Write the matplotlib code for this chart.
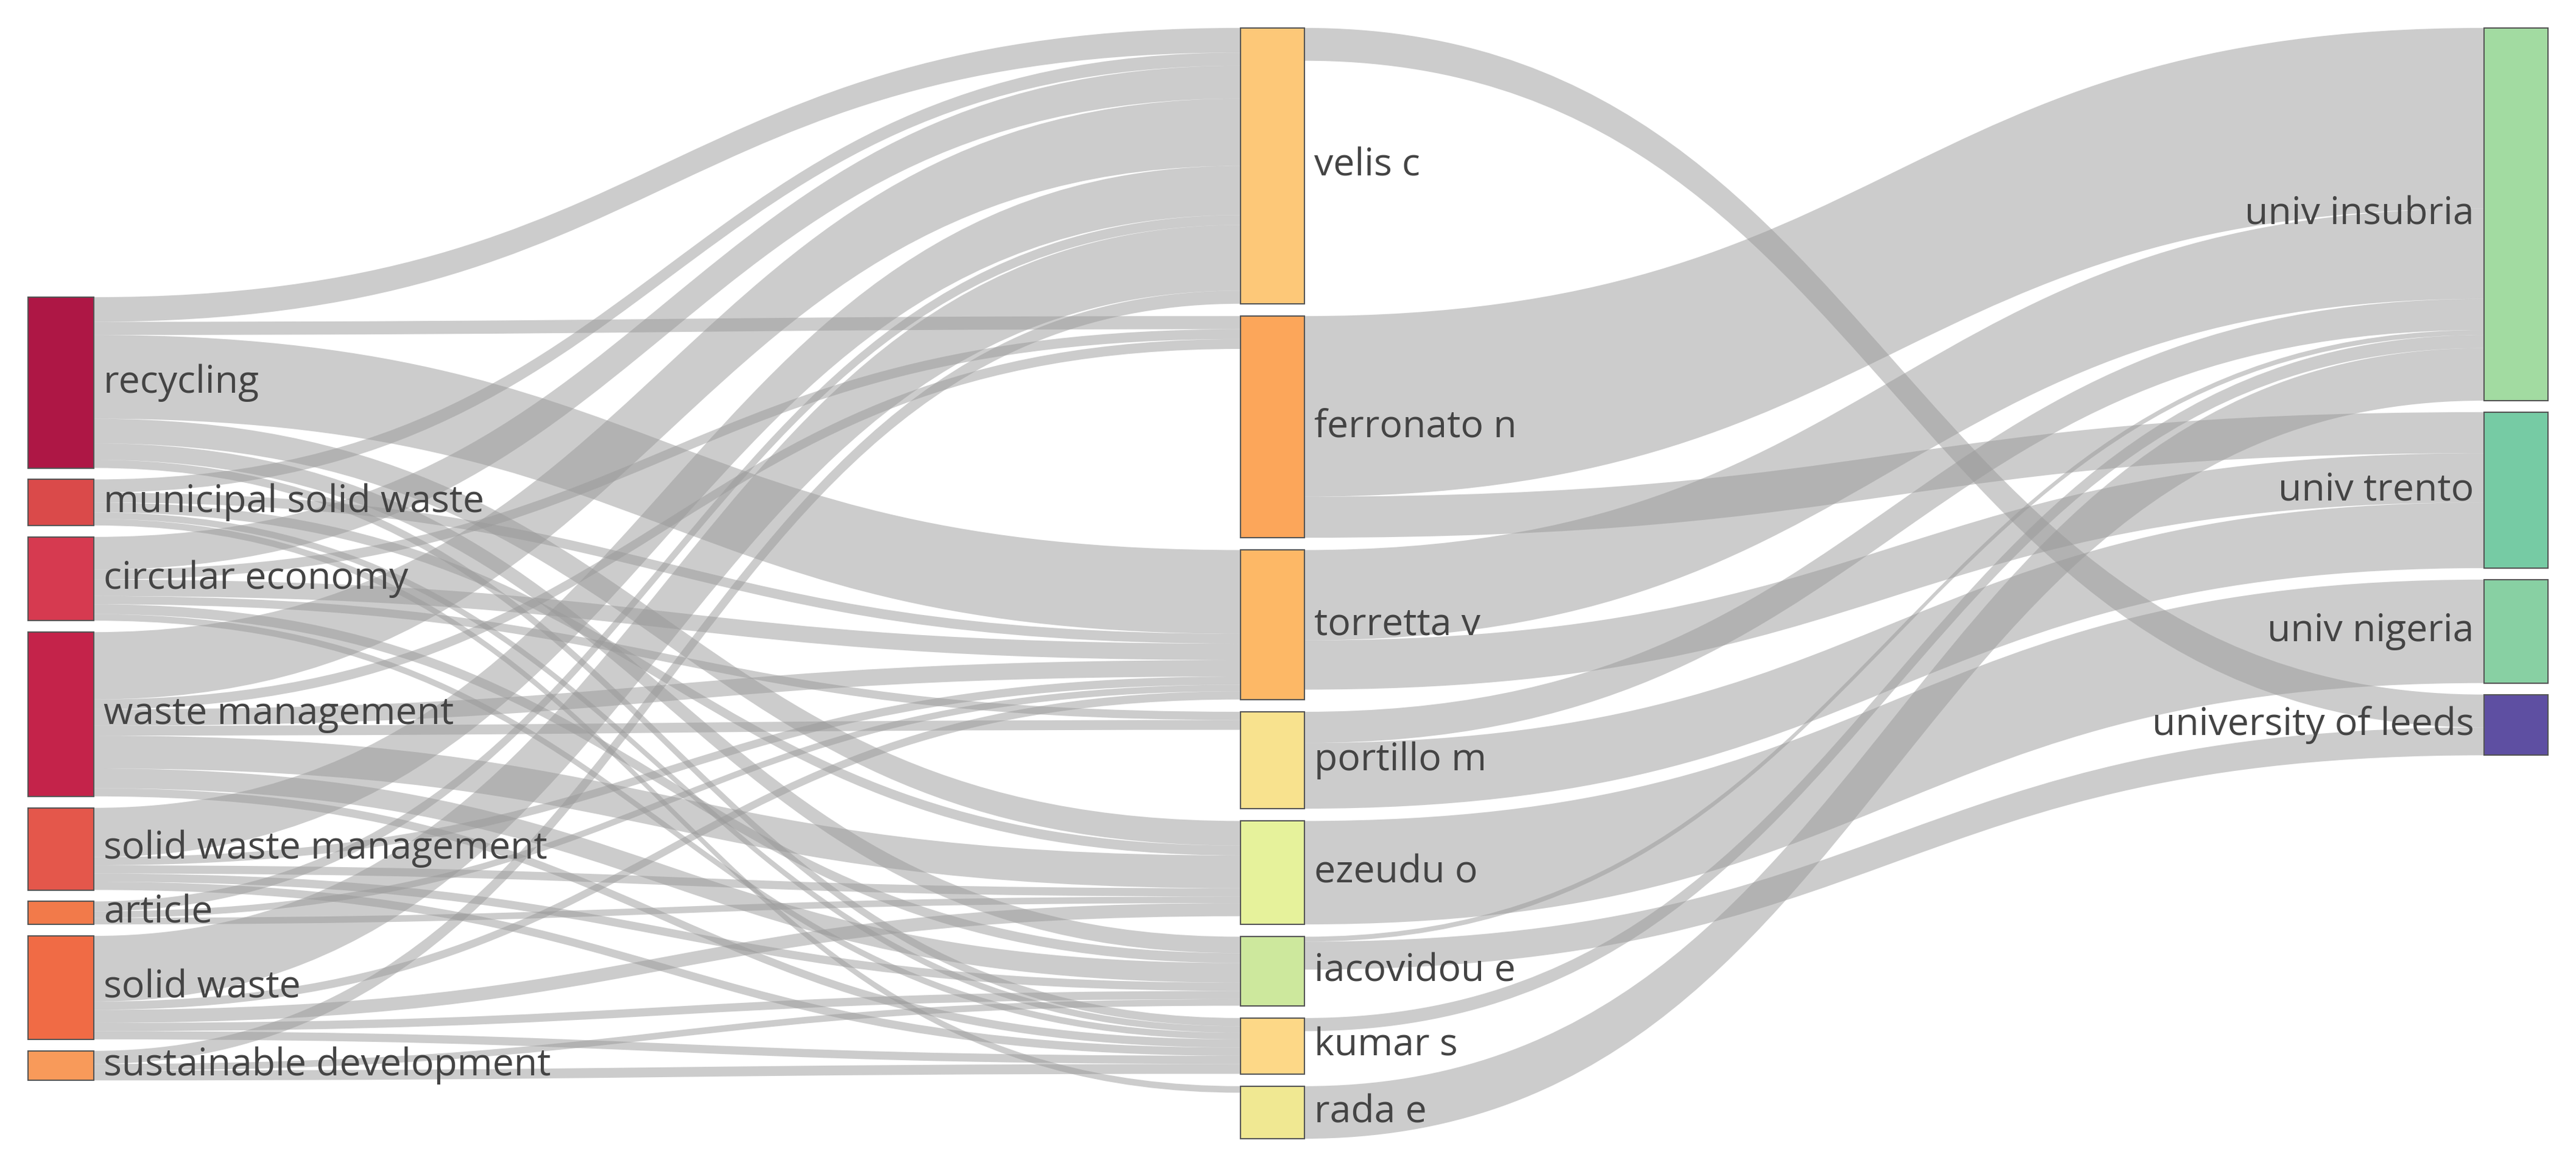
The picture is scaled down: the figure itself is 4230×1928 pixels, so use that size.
import matplotlib.pyplot as plt
from matplotlib.path import Path
from matplotlib.patches import PathPatch, Rectangle

plt.rcParams['font.family'] = ['Open Sans', 'DejaVu Sans']

left_nodes = ["recycling", "municipal solid waste", "circular economy", "waste management",
              "solid waste management", "article", "solid waste", "sustainable development"]
mid_nodes = ["velis c", "ferronato n", "torretta v", "portillo m", "ezeudu o",
             "iacovidou e", "kumar s", "rada e"]
right_nodes = ["univ insubria", "univ trento", "univ nigeria", "university of leeds"]

left_colors = ["#AE1745", "#DA4A4A", "#D63A50", "#C4234A", "#E4574B", "#F27A4A", "#F06B45", "#F89A5A"]
mid_colors = ["#FDC878", "#FCA65A", "#FDB866", "#F8E28E", "#E6F29B", "#CDE89D", "#FDD887", "#F0E892"]
right_colors = ["#A2DBA1", "#76CBA4", "#88D0A3", "#5E4FA2"]

# (source, target, value)
flows_lm = [
    ("recycling", "velis c", 15), ("recycling", "ferronato n", 8), ("recycling", "torretta v", 51),
    ("recycling", "ezeudu o", 15), ("recycling", "iacovidou e", 10), ("recycling", "kumar s", 5),
    ("municipal solid waste", "velis c", 8), ("municipal solid waste", "torretta v", 6),
    ("municipal solid waste", "ezeudu o", 6), ("municipal solid waste", "kumar s", 4),
    ("municipal solid waste", "rada e", 4),
    ("circular economy", "velis c", 20), ("circular economy", "ferronato n", 6),
    ("circular economy", "torretta v", 10), ("circular economy", "portillo m", 5),
    ("circular economy", "iacovidou e", 6), ("circular economy", "kumar s", 4),
    ("waste management", "velis c", 41), ("waste management", "ferronato n", 6),
    ("waste management", "torretta v", 10), ("waste management", "portillo m", 6),
    ("waste management", "ezeudu o", 20), ("waste management", "iacovidou e", 12),
    ("waste management", "kumar s", 5),
    ("solid waste management", "velis c", 30), ("solid waste management", "torretta v", 5),
    ("solid waste management", "ezeudu o", 5), ("solid waste management", "iacovidou e", 5),
    ("solid waste management", "kumar s", 5),
    ("article", "velis c", 6), ("article", "torretta v", 4), ("article", "ezeudu o", 4),
    ("solid waste", "velis c", 40), ("solid waste", "torretta v", 5), ("solid waste", "ezeudu o", 8),
    ("solid waste", "iacovidou e", 5), ("solid waste", "kumar s", 5),
    ("sustainable development", "velis c", 8), ("sustainable development", "iacovidou e", 4),
    ("sustainable development", "kumar s", 6),
]
flows_mr = [
    ("velis c", "university of leeds", 20),
    ("ferronato n", "univ insubria", 110), ("ferronato n", "univ trento", 25),
    ("torretta v", "univ insubria", 55), ("torretta v", "univ trento", 30),
    ("portillo m", "univ insubria", 19), ("portillo m", "univ trento", 40),
    ("ezeudu o", "univ nigeria", 63),
    ("iacovidou e", "university of leeds", 17), ("iacovidou e", "univ insubria", 3),
    ("kumar s", "univ insubria", 8),
    ("rada e", "univ insubria", 32),
]

flows = flows_lm + flows_mr
inflow, outflow = {}, {}
for s, t, v in flows:
    outflow[s] = outflow.get(s, 0) + v
    inflow[t] = inflow.get(t, 0) + v

def layout(names, y0, gap):
    pos, y = {}, y0
    for n in names:
        h = max(inflow.get(n, 0), outflow.get(n, 0))
        pos[n] = [y, h]
        y += h + gap
    return pos

pos = {}
pos.update(layout(left_nodes, 181, 7))
pos.update(layout(mid_nodes, 17, 7.5))
pos.update(layout(right_nodes, 17, 7))
col_x = {}
for n in left_nodes: col_x[n] = (17, 57)
for n in mid_nodes: col_x[n] = (755, 794)
for n in right_nodes: col_x[n] = (1512, 1551)

fig = plt.figure(figsize=(42.3, 19.28), dpi=100)
ax = fig.add_axes([0, 0, 1, 1])
ax.set_xlim(0, 1568)
ax.set_ylim(715, 0)
ax.axis('off')

order = {n: i for i, n in enumerate(left_nodes + mid_nodes + right_nodes)}
out_off = {n: 0 for n in order}
in_off = {n: 0 for n in order}
out_start, in_start = {}, {}
for s, t, v in sorted(flows, key=lambda f: (order[f[0]], order[f[1]])):
    out_start[(s, t)] = pos[s][0] + out_off[s]
    out_off[s] += v
for s, t, v in sorted(flows, key=lambda f: (order[f[1]], order[f[0]])):
    in_start[(s, t)] = pos[t][0] + in_off[t]
    in_off[t] += v

for s, t, v in flows:
    x0 = col_x[s][1]
    x1 = col_x[t][0]
    ya = out_start[(s, t)]
    yb = in_start[(s, t)]
    xm = (x0 + x1) / 2
    verts = [(x0, ya), (xm, ya), (xm, yb), (x1, yb),
             (x1, yb + v), (xm, yb + v), (xm, ya + v), (x0, ya + v), (x0, ya)]
    codes = [Path.MOVETO, Path.CURVE4, Path.CURVE4, Path.CURVE4,
             Path.LINETO, Path.CURVE4, Path.CURVE4, Path.CURVE4, Path.CLOSEPOLY]
    ax.add_patch(PathPatch(Path(verts, codes), facecolor='#9A9A9A', edgecolor='none', alpha=0.5))

for names, colors in [(left_nodes, left_colors), (mid_nodes, mid_colors), (right_nodes, right_colors)]:
    for n, c in zip(names, colors):
        y, h = pos[n]
        x0, x1 = col_x[n]
        ax.add_patch(Rectangle((x0, y), x1 - x0, h, facecolor=c, edgecolor='#555555', lw=1.5))
        if names is right_nodes:
            ax.text(x0 - 6, y + h / 2, n, ha='right', va='center', fontsize=45, color='#444444')
        else:
            ax.text(x1 + 6, y + h / 2, n, ha='left', va='center', fontsize=45, color='#444444')

fig.savefig("out.png", dpi=100)
